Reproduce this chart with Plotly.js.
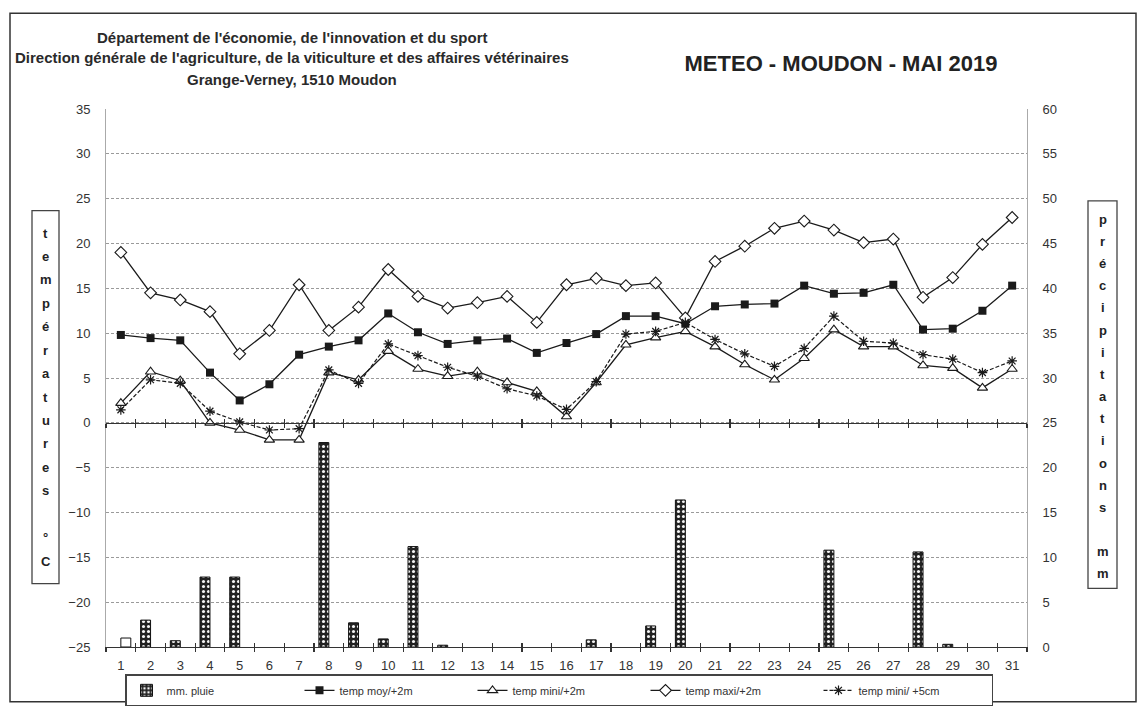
<!DOCTYPE html>
<html><head><meta charset="utf-8">
<script src="https://cdn.plot.ly/plotly-3.0.1.min.js"></script>
<style>html,body{margin:0;padding:0;background:#fff}#chart{width:1142px;height:718px}</style>
</head><body><div id="chart"></div>
<script>
// ---------- DATA ----------
const days = [1,2,3,4,5,6,7,8,9,10,11,12,13,14,15,16,17,18,19,20,21,22,23,24,25,26,27,28,29,30,31];
const dayLabels = days.map(String);
const pluie = [null,3.0,0.7,7.8,7.8,null,null,22.8,2.7,0.9,11.2,0.2,null,null,null,null,0.8,null,2.35,16.4,null,null,null,null,10.8,null,null,10.6,0.3,null,null];
const pluieBlanc = [1.0,null,null,null,null,null,null,null,null,null,null,null,null,null,null,null,null,null,null,null,null,null,null,null,null,null,null,null,null,null,null];
const tempMoy = [9.8,9.45,9.2,5.6,2.5,4.3,7.6,8.5,9.2,12.2,10.1,8.8,9.2,9.4,7.8,8.9,9.9,11.9,11.9,11.05,13.0,13.2,13.3,15.3,14.4,14.5,15.4,10.4,10.5,12.5,15.3];
const tempMini2m = [2.2,5.7,4.7,0.0,-0.8,-1.9,-1.9,5.6,4.8,8.0,6.0,5.2,5.7,4.5,3.5,0.7,4.5,8.7,9.5,10.2,8.5,6.5,4.8,7.2,10.4,8.5,8.5,6.4,6.1,3.9,6.0];
const tempMaxi = [19.0,14.5,13.7,12.4,7.7,10.3,15.4,10.3,12.9,17.1,14.1,12.8,13.4,14.1,11.2,15.4,16.1,15.3,15.6,11.7,18.0,19.7,21.7,22.5,21.5,20.1,20.5,14.0,16.2,19.9,22.9];
const tempMini5cm = [1.45,4.8,4.4,1.3,0.1,-0.8,-0.65,5.9,4.4,8.8,7.5,6.2,5.2,3.8,3.0,1.5,4.6,9.9,10.2,11.2,9.3,7.7,6.3,8.3,11.9,9.1,8.9,7.6,7.1,5.6,6.9];
const seriesNames = ["mm. pluie","temp moy/+2m","temp mini/+2m","temp maxi/+2m","temp mini/ +5cm"];
const headerLines = ["Département de l'économie, de l'innovation et du sport",
  "Direction générale de l'agriculture, de la viticulture et des affaires vétérinaires",
  "Grange-Verney, 1510 Moudon"];
const chartTitle = "METEO - MOUDON - MAI 2019";
const leftAxisLetters = ["t","e","m","p","é","r","a","t","u","r","e","s","","°","C"];
const rightAxisLetters = ["p","r","é","c","i","p","i","t","a","t","i","o","n","s","","m","m"];
const tempRange = [-25, 35];
const rainRange = [0, 60];

// ---------- GEOMETRY ----------
const W = 1142, H = 718;
const M = {l:106, r:115, t:109, b:58};
const PW = W - M.l - M.r, PH = H - M.t - M.b;
const px = x => (x - M.l) / PW;
const py = y => (H - M.b - y) / PH;
const FONT = "Liberation Sans, Arial, sans-serif";
const NARROW = "Liberation Sans Narrow, Liberation Sans, Arial, sans-serif";
const INK = "#1a1a1a";
const boundaries = [0.5].concat(days.map(d => d + 0.5));
const zeroPos = (0 - tempRange[0]) / (tempRange[1] - tempRange[0]);

const traces = [
  {type:'bar', x:days, y:pluie, yaxis:'y2', name:seriesNames[0],
   marker:{color:'#222', line:{color:'#111', width:1},
           pattern:{shape:'.', fillmode:'replace', bgcolor:'#222', fgcolor:'#f4f4f4', size:5, solidity:0.3}}},
  {type:'bar', x:days, y:pluieBlanc, yaxis:'y2', name:'', showlegend:false,
   marker:{color:'#ffffff', line:{color:'#111', width:1}}},
  {type:'scatter', mode:'lines+markers', x:days, y:tempMoy, name:seriesNames[1],
   line:{color:INK, width:1.3}, marker:{symbol:'square', size:8, color:INK}},
  {type:'scatter', mode:'lines+markers', x:days, y:tempMini2m, name:seriesNames[2],
   line:{color:INK, width:1.3}, marker:{symbol:'triangle-up', size:9, color:'#fff', line:{color:INK, width:1.1}}},
  {type:'scatter', mode:'lines+markers', x:days, y:tempMaxi, name:seriesNames[3],
   line:{color:INK, width:1.3}, marker:{symbol:'diamond', size:9, color:'#fff', line:{color:INK, width:1.1}}},
  {type:'scatter', mode:'lines+markers', x:days, y:tempMini5cm, name:seriesNames[4],
   line:{color:INK, width:1.2, dash:'4px,2px'}, marker:{symbol:'asterisk-open', size:8, color:INK, line:{color:INK, width:1.2}}}
];
// empty helper traces so the overlay tick axes get drawn (no marks)
['x2','x3','x4','x5'].forEach(a => traces.push({type:'scatter', x:[], y:[], xaxis:a, yaxis:'y', showlegend:false, hoverinfo:'skip'}));

const hiddenX = {overlaying:'x', range:[0.5,31.5], tickmode:'array', tickvals:boundaries,
  showticklabels:false, showgrid:false, zeroline:false, ticklen:4, tickcolor:'#333', tickwidth:1.2};

const shapes = [
  {type:'rect', xref:'paper', yref:'paper', x0:px(10), x1:px(1136), y0:py(716), y1:py(11), line:{color:'#333', width:1.5}},
  {type:'rect', xref:'paper', yref:'paper', x0:px(32), x1:px(59), y0:py(595), y1:py(213), line:{color:'#444', width:1.3}},
  {type:'rect', xref:'paper', yref:'paper', x0:px(1088), x1:px(1117), y0:py(600), y1:py(203), line:{color:'#444', width:1.3}}
];

const annotations = [];
const headerY = [36, 56, 79];
headerLines.forEach((t,i) => annotations.push({xref:'paper', yref:'paper', x:px(292), y:py(headerY[i]),
  text:t, showarrow:false, xanchor:'center', yanchor:'middle', font:{family:FONT, size:15, color:'#2a2a2a', weight:'bold'}}));
function stack(letters, cx, cy, step){
  const n = letters.length;
  letters.forEach((c,i) => {
    if(!c) return;
    annotations.push({xref:'paper', yref:'paper', x:px(cx), y:py(cy + (i - (n-1)/2)*step), text:c, showarrow:false,
      xanchor:'center', yanchor:'middle', font:{family:FONT, size:13, color:'#222', weight:'bold'}});
  });
}
stack(leftAxisLetters, 45.5, 404, 24);
stack(rightAxisLetters, 1102.5, 403.5, 22.7);

const layout = {
  width:W, height:H, margin:M, paper_bgcolor:'#fff', plot_bgcolor:'#fff',
  font:{family:FONT, color:'#333'},
  title:{text:chartTitle, x:841/W, y:1-63/H, xanchor:'center', yanchor:'middle', xref:'container', yref:'container',
         font:{family:FONT, size:22, color:'#222', weight:'bold'}},
  barmode:'group', bargap:0.33, bargroupgap:0,
  showlegend:true,
  legend:{orientation:'h', x:px(559), xanchor:'center', y:py(688), yanchor:'top', traceorder:'normal',
          bordercolor:'#444', borderwidth:1.5, bgcolor:'#fff', font:{family:FONT, size:11, color:'#333'},
          entrywidth:128, entrywidthmode:'pixels'},
  xaxis:{range:[0.5,31.5], tickmode:'array', tickvals:days, ticktext:dayLabels, ticks:'', showline:true,
         linecolor:'#333', linewidth:1.2, showgrid:false, zeroline:false, ticklabelstandoff:6,
         tickfont:{family:NARROW, size:13, color:'#333'}},
  xaxis2: Object.assign({}, hiddenX, {anchor:'y', ticks:'outside'}),
  xaxis3: Object.assign({}, hiddenX, {anchor:'y', ticks:'inside'}),
  xaxis4: Object.assign({}, hiddenX, {anchor:'free', position:zeroPos, ticks:'outside', showline:true, linecolor:'#333', linewidth:1.2}),
  xaxis5: Object.assign({}, hiddenX, {anchor:'free', position:zeroPos, ticks:'inside'}),
  yaxis:{range:tempRange, tick0:-25, dtick:5, ticks:'', showgrid:true, gridcolor:'#9a9a9a', griddash:'3px,2px', gridwidth:1,
         showline:true, linecolor:'#aaa', linewidth:1, zeroline:false, ticklabelstandoff:12,
         tickfont:{family:NARROW, size:13, color:'#333'}},
  yaxis2:{overlaying:'y', side:'right', range:rainRange, tick0:0, dtick:5, ticks:'', showgrid:false,
          showline:true, linecolor:'#aaa', linewidth:1, zeroline:false, ticklabelstandoff:12,
          tickfont:{family:NARROW, size:13, color:'#333'}},
  shapes:shapes, annotations:annotations
};
Plotly.newPlot('chart', traces, layout, {displayModeBar:false, staticPlot:true});
</script></body></html>
